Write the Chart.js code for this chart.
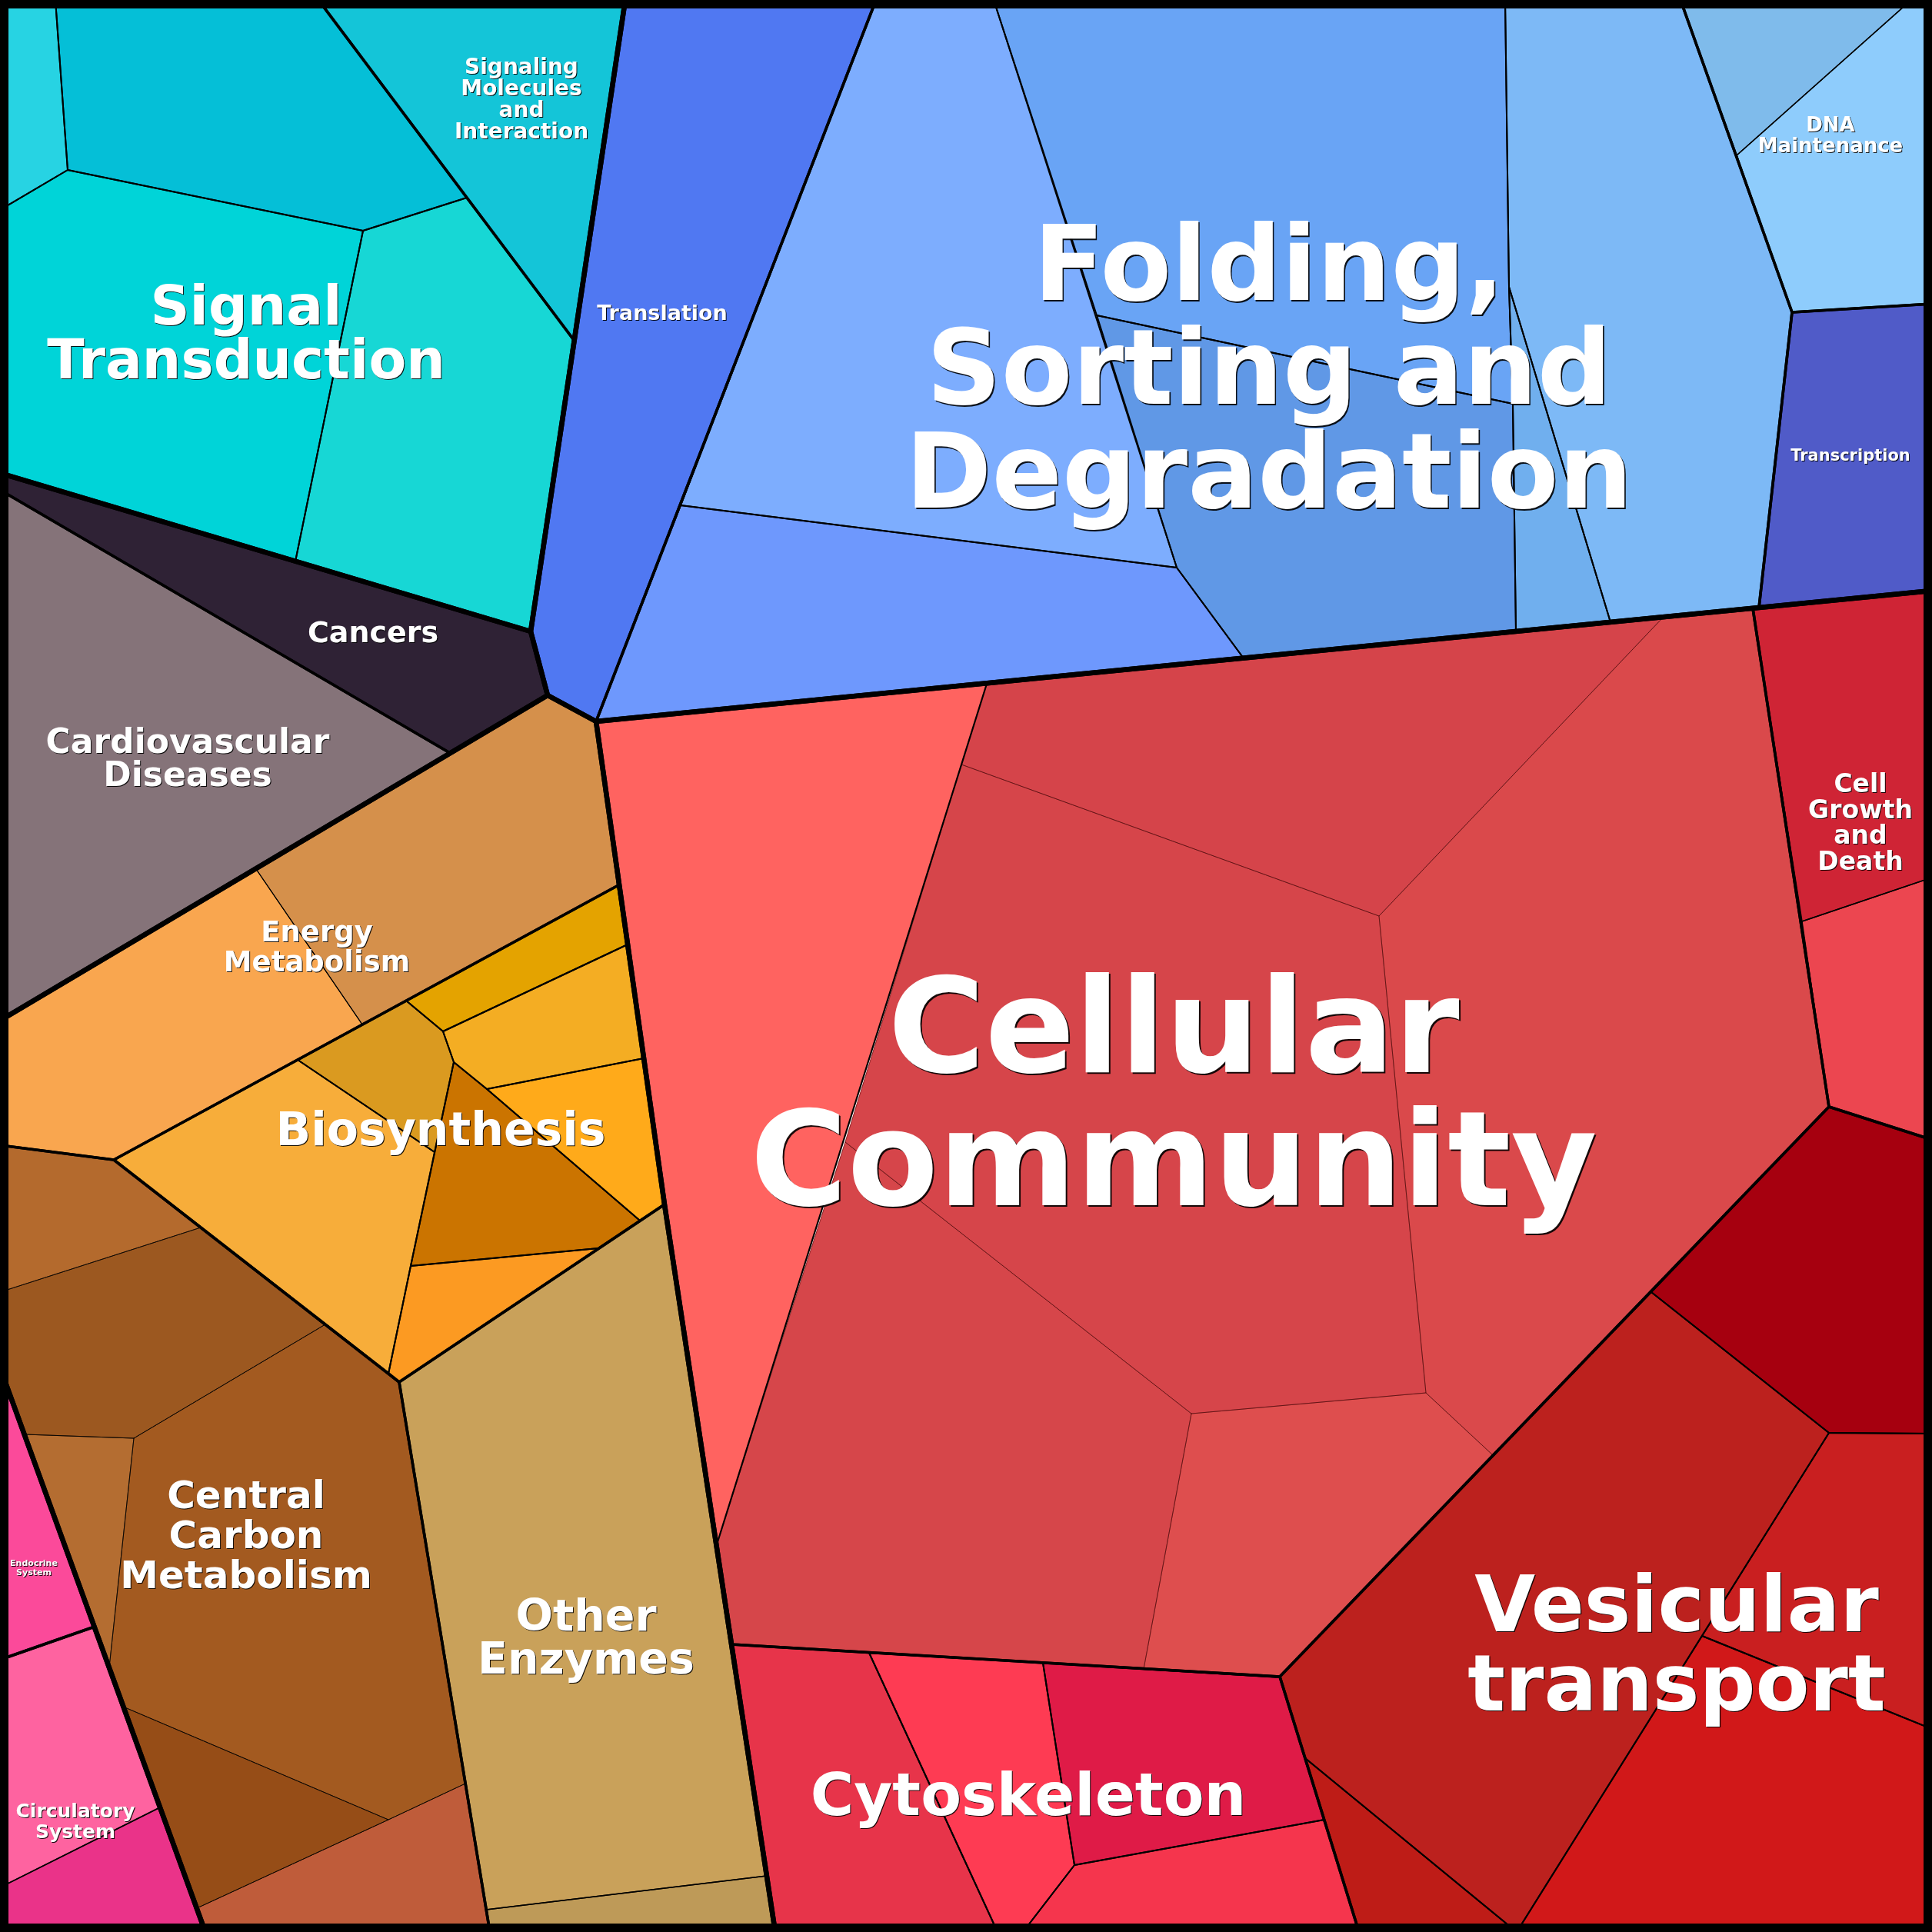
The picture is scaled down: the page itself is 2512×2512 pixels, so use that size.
<!DOCTYPE html>
<html><head><meta charset="utf-8">
<style>html,body{margin:0;padding:0;background:#fff;overflow:hidden}</style>
<script src="https://cdn.jsdelivr.net/npm/chart.js@4.4.1/dist/chart.umd.min.js"></script>
</head><body>
<canvas id="c" width="2512" height="2512" style="display:block;width:2512px;height:2512px"></canvas>
<script>
// ================= DATA (plot units 0–2512, y measured downward) =================
const groups = ['Environmental Information Processing','Genetic Information Processing','Human Diseases','Metabolism','Organismal Systems','Cellular Processes'];
const categories = ['Signal Transduction','Signaling Molecules and Interaction','Translation','Folding, Sorting and Degradation','DNA Maintenance','Transcription','Cancers','Cardiovascular Diseases','Energy Metabolism','Biosynthesis','Central Carbon Metabolism','Other Enzymes','Endocrine System','Circulatory System','Cellular Community','Vesicular transport','Cytoskeleton','Cell Growth and Death'];
const categoryGroup = [0,0,1,1,1,1,2,2,3,3,3,3,4,4,5,5,5,5];

// leaf cells (polygon vertices) per category
const cellsSignalTransduction = [
  [[0,0],[72,0],[88,221],[0,273]],
  [[72,0],[414,0],[607,257],[472,300],[88,221]],
  [[0,273],[88,221],[472,300],[384,730],[0,615]],
  [[472,300],[607,257],[746,442],[690,821],[384,730]]
];
const cellsSignalingMolecules = [[[414,0],[813,0],[746,442],[607,257]]];
const cellsTranslation = [[[813,0],[1139,0],[775,938],[712,904],[690,821]]];
const cellsFolding = [
  [[1139,0],[1292,0],[1530,738],[885,657]],
  [[885,657],[1530,738],[1617,856],[775,938]],
  [[1292,0],[1957,0],[1962,373],[1967,525],[1426,410]],
  [[1426,410],[1967,525],[1971,821],[1617,856],[1530,738]],
  [[1957,0],[2185,0],[2330,406],[2287,790],[2094,809],[1962,373]],
  [[1962,373],[2094,809],[1971,821],[1967,525]]
];
const cellsDnaMaintenance = [
  [[2185,0],[2485,0],[2258,202]],
  [[2485,0],[2512,0],[2512,395],[2330,406],[2258,202]]
];
const cellsTranscription = [[[2330,406],[2512,395],[2512,768],[2287,790]]];
const cellsCancers = [[[0,615],[690,821],[712,904],[585,979],[0,637]]];
const cellsCardiovascular = [[[0,637],[585,979],[0,1327]]];
const cellsEnergy = [
  [[712,904],[775,938],[804,1151],[471,1332],[333,1130]],
  [[333,1130],[471,1332],[148,1508],[0,1489],[0,1327]]
];
const cellsBiosynthesis = [
  [[804,1151],[816,1228],[576,1341],[528,1301]],
  [[576,1341],[816,1228],[837,1376],[633,1416],[590,1381]],
  [[528,1301],[576,1341],[590,1381],[565,1498],[387,1378]],
  [[590,1381],[633,1416],[832,1587],[778,1623],[534,1646]],
  [[633,1416],[837,1376],[864,1566],[832,1587]],
  [[148,1508],[387,1378],[565,1498],[534,1646],[505,1786]],
  [[534,1646],[778,1623],[519,1797],[505,1786]]
];
const cellsCentralCarbon = [
  [[0,1489],[148,1508],[261,1596],[0,1680]],
  [[0,1680],[261,1596],[423,1722],[174,1870],[32,1865],[0,1778]],
  [[32,1865],[174,1870],[142,2168]],
  [[174,1870],[423,1722],[505,1786],[519,1797],[605,2319],[505,2366],[160,2219],[142,2168]],
  [[160,2219],[505,2366],[256,2481]],
  [[256,2481],[505,2366],[605,2319],[637,2512],[267,2512]]
];
const cellsOtherEnzymes = [
  [[519,1797],[864,1566],[997,2439],[632,2483]],
  [[632,2483],[997,2439],[1008,2512],[637,2512]]
];
const cellsEndocrine = [[[0,1778],[123,2115],[0,2158]]];
const cellsCirculatory = [
  [[0,2158],[123,2115],[208,2350],[0,2454]],
  [[0,2454],[208,2350],[267,2512],[0,2512]]
];
const cellsCellularCommunity = [
  [[775,938],[1283,889],[932,2008],[864,1566]],
  [[1283,889],[2162,803],[1793,1191],[1250,994]],
  [[2162,803],[2279,791],[2378,1439],[1941,1892],[1854,1811],[1793,1191]],
  [[1250,994],[1793,1191],[1854,1811],[1549,1838],[1099,1485]],
  [[1099,1485],[1549,1838],[1487,2170],[951,2138],[932,2008]],
  [[1549,1838],[1854,1811],[1941,1892],[1664,2180],[1487,2170]]
];
const cellsVesicular = [
  [[2378,1439],[2512,1482],[2512,1864],[2378,1863],[2147,1680]],
  [[2147,1680],[2378,1863],[1972,2512],[1697,2286],[1664,2180]],
  [[1697,2286],[1972,2512],[1767,2512]],
  [[2378,1863],[2512,1864],[2512,2248],[2213,2127]],
  [[2213,2127],[2512,2248],[2512,2512],[1972,2512]]
];
const cellsCytoskeleton = [
  [[951,2138],[1130,2149],[1297,2512],[1008,2512]],
  [[1130,2149],[1356,2162],[1397,2425],[1330,2512],[1297,2512]],
  [[1356,2162],[1664,2181],[1722,2366],[1397,2425]],
  [[1397,2425],[1722,2366],[1767,2512],[1330,2512]]
];
const cellsCellGrowth = [
  [[2279,791],[2512,768],[2512,1141],[2343,1198]],
  [[2343,1198],[2512,1141],[2512,1482],[2378,1439]]
];
const categoryCells = [cellsSignalTransduction,cellsSignalingMolecules,cellsTranslation,cellsFolding,cellsDnaMaintenance,cellsTranscription,cellsCancers,cellsCardiovascular,cellsEnergy,cellsBiosynthesis,cellsCentralCarbon,cellsOtherEnzymes,cellsEndocrine,cellsCirculatory,cellsCellularCommunity,cellsVesicular,cellsCytoskeleton,cellsCellGrowth];

// category outlines (level 1)
const categoryOutlines = [
  [[0,0],[414,0],[607,257],[746,442],[690,821],[384,730],[0,615]],
  cellsSignalingMolecules[0],
  cellsTranslation[0],
  [[1139,0],[2185,0],[2330,406],[2287,790],[775,938]],
  [[2185,0],[2512,0],[2512,395],[2330,406]],
  cellsTranscription[0],
  cellsCancers[0],
  cellsCardiovascular[0],
  [[712,904],[775,938],[804,1151],[148,1508],[0,1489],[0,1327]],
  [[804,1151],[864,1566],[519,1797],[505,1786],[148,1508]],
  [[0,1489],[148,1508],[505,1786],[519,1797],[637,2512],[267,2512],[0,1778]],
  [[519,1797],[864,1566],[1008,2512],[637,2512]],
  cellsEndocrine[0],
  [[0,2158],[123,2115],[267,2512],[0,2512]],
  [[775,938],[2279,791],[2378,1439],[1664,2180],[951,2138],[864,1566]],
  [[2378,1439],[2512,1482],[2512,2512],[1767,2512],[1664,2180]],
  [[951,2138],[1664,2180],[1767,2512],[1008,2512]],
  [[2279,791],[2512,768],[2512,1482],[2378,1439]]
];
// sub-group outline inside Cellular Community
const subgroupOutlines = [cellsCellularCommunity[0]];
// group outlines (level 0)
const groupOutlines = [
  [[0,0],[813,0],[690,821],[0,615]],
  [[813,0],[2512,0],[2512,768],[775,938],[712,904],[690,821]],
  [[0,615],[690,821],[712,904],[0,1327]],
  [[712,904],[775,938],[864,1566],[1008,2512],[267,2512],[0,1778],[0,1327]],
  [[0,1778],[267,2512],[0,2512]],
  [[775,938],[2512,768],[2512,2512],[1008,2512],[864,1566]]
];
const labelLines = [['Signal','Transduction'],['Signaling','Molecules','and','Interaction'],['Translation'],['Folding,','Sorting and','Degradation'],['DNA','Maintenance'],['Transcription'],['Cancers'],['Cardiovascular','Diseases'],['Energy','Metabolism'],['Biosynthesis'],['Central','Carbon','Metabolism'],['Other','Enzymes'],['Endocrine','System'],['Circulatory','System'],['Cellular','Community'],['Vesicular','transport'],['Cytoskeleton'],['Cell','Growth','and','Death']];

// ================= STYLES =================
const cellColors = [
  ['#27D3E3','#05BFD7','#00D4D8','#17D7D5'],
  ['#14C5D8'],
  ['#5078F2'],
  ['#7DADFE','#6E98FD','#69A4F5','#6098E6','#7DB9F6','#70AFEE'],
  ['#7FBBEB','#8ECCFC'],
  ['#505BC8'],
  ['#2F2235'],
  ['#857379'],
  ['#D5904B','#F9A64F'],
  ['#E4A300','#F4AD23','#DA9A20','#CB7400','#FFAA1A','#F7AD3A','#FC9A22'],
  ['#B46A2D','#9C5820','#B46D31','#A35A20','#964D17','#BF5C3A'],
  ['#C9A15A','#BE9A58'],
  ['#FB4A9A'],
  ['#FE63A0','#EA3389'],
  ['#FF6360','#D5444A','#DA494B','#D6454A','#D6464A','#DE4E4E'],
  ['#A6000F','#BC211E','#BE1C17','#C91F20','#D11819'],
  ['#E7344A','#FE3B53','#DF1B47','#F5354D'],
  ['#CF2435','#EC4650']
];
const innerWidth = [2,2,2,2,1.5,2,2,2,1.2,2,1,1.5,1.5,1.5,1,2,2,1.5];
const innerColor = categories.map((c,i)=> i===14 ? 'rgba(50,0,0,0.45)' : (i===10 ? 'rgba(0,0,0,0.75)' : '#000'));
const labelStyle = [
  {x:320,y:422,lh:70,size:71},{x:678,y:96,lh:28,size:28},{x:861,y:416,lh:27,size:27},
  {x:1650,y:390,lh:135,size:135},{x:2380,y:171,lh:27,size:26},{x:2406,y:599,lh:21,size:21},
  {x:485,y:835,lh:38,size:38},{x:244,y:979,lh:43,size:44},{x:412,y:1224,lh:39,size:37},
  {x:573,y:1489,lh:60,size:60},{x:320,y:1961,lh:52,size:50},{x:762,y:2120,lh:56,size:57},
  {x:44,y:2036,lh:11.5,size:11},{x:98,y:2363,lh:26.5,size:25},{x:1526,y:1394,lh:173,size:172},
  {x:2180,y:2121,lh:103,size:102},{x:1337,y:2360,lh:77,size:77},{x:2419,y:1030,lh:33.7,size:33}
];

// ================= BUILD =================
function ring(pts){ const d = pts.map(p=>({x:p[0],y:p[1]})); d.push({x:pts[0][0],y:pts[0][1]}); return d; }
const datasets = [];
function outline(pts, width, color, order){
  datasets.push({data:ring(pts), showLine:true, fill:false, borderColor:color, borderWidth:width,
    borderJoinStyle:'round', borderCapStyle:'round', pointRadius:0, order});
}
categoryCells.forEach((cells, ci) => {
  cells.forEach((pts, k) => {
    datasets.push({label:categories[ci], data:ring(pts), showLine:true, fill:'shape',
      backgroundColor:cellColors[ci][k], borderColor:cellColors[ci][k], borderWidth:1,
      pointRadius:0, order:100});
    outline(pts, innerWidth[ci], innerColor[ci], 50);
  });
});
subgroupOutlines.forEach(p => outline(p, 2.2, '#000', 40));
categoryOutlines.forEach(p => outline(p, 3.6, '#000', 30));
groupOutlines.forEach(p => outline(p, 6.5, '#000', 20));
outline([[0,0],[2512,0],[2512,2512],[0,2512]], 22, '#000', 10);

const labelPlugin = {
  id:'cellLabels',
  afterDatasetsDraw(chart){
    const {ctx, scales:{x, y}} = chart;
    labelLines.forEach((lines, i) => {
      const s = labelStyle[i];
      ctx.save();
      ctx.font = 'bold ' + s.size + 'px "DejaVu Sans"';
      ctx.textAlign = 'center';
      ctx.textBaseline = 'alphabetic';
      ctx.fillStyle = '#ffffff';
      const off = Math.min(2, Math.max(1, s.size * 0.012));
      ctx.shadowColor = 'rgba(0,0,0,0.9)';
      ctx.shadowOffsetX = off; ctx.shadowOffsetY = off; ctx.shadowBlur = 0.5;
      lines.forEach((t, j) => {
        ctx.fillText(t, x.getPixelForValue(s.x), y.getPixelForValue(s.y + j * s.lh));
      });
      ctx.restore();
    });
  }
};

new Chart(document.getElementById('c'), {
  type:'scatter',
  data:{datasets},
  options:{
    responsive:false, animation:false, events:[],
    layout:{padding:0},
    scales:{
      x:{type:'linear', min:0, max:2512, display:false},
      y:{type:'linear', min:0, max:2512, reverse:true, display:false}
    },
    elements:{line:{tension:0}, point:{radius:0}},
    plugins:{legend:{display:false}, tooltip:{enabled:false}}
  },
  plugins:[labelPlugin]
});
</script>
</body></html>
